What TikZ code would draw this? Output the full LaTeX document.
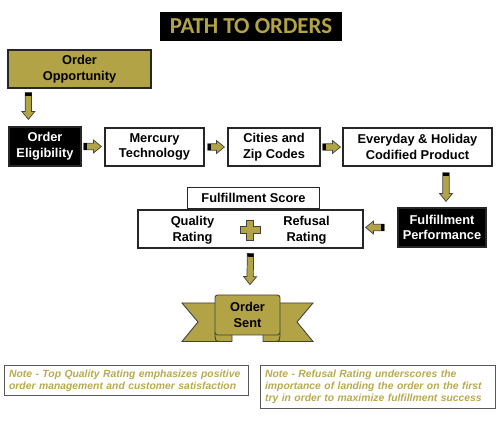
\documentclass[tikz,border=0pt]{standalone}
\usepackage{fontspec}
\setmainfont{Liberation Sans}
\newfontfamily\titlefont{Carlito}
\usetikzlibrary{calc}

\definecolor{gold}{RGB}{178,164,70}
\definecolor{notegold}{RGB}{184,170,78}

\tikzset{
  box/.style={draw=black!85, line width=0.7pt, fill=white, align=center, inner sep=0pt,
    minimum height=7.6mm, font=\bfseries\fontsize{7.3}{9}\selectfont},
  darkbox/.style={box, fill=black, text=white},
  lbl/.style={align=center, inner sep=0pt, font=\bfseries\fontsize{7.3}{9}\selectfont},
  banner/.style={fill=gold, draw=black!75, line width=0.5pt},
  note/.style={draw=black!65, line width=0.6pt, anchor=north west, align=left,
    inner xsep=2.6pt, inner ysep=0pt, text=notegold,
    font=\bfseries\itshape\fontsize{5.9}{6.9}\selectfont},
  fat/.style={fill=gold, draw=black!75, line width=0.4pt, to path={
    let \p1=(\tikztostart), \p2=(\tikztotarget), \n1={atan2(\y2-\y1,\x2-\x1)} in
    ($(\p2)!4.5pt!(\p1)$) coordinate (fathead)
    ($(\p1)!1.8pt!90:(\p2)$) -- ($(fathead)!1.8pt!90:(\p2)$) -- ($(fathead)!3.7pt!90:(\p2)$)
    -- (\p2) -- ($(fathead)!3.7pt!-90:(\p2)$) -- ($(fathead)!1.8pt!-90:(\p2)$)
    -- ($(\p1)!1.8pt!-90:(\p2)$) -- cycle
    ($(\p1)!0.9pt!(\p2)$) node[fill=black, draw=none, inner sep=0pt,
      minimum width=1.8pt, minimum height=3.6pt, rotate=\n1] {}
  }},
}

\begin{document}
\begin{tikzpicture}[x=0.2mm, y=-0.2mm]
  \useasboundingbox (0,0) rectangle (500,421);

  % Title
  \node[fill=black, minimum width=36.4mm, minimum height=5.8mm, inner sep=0pt, text=gold,
    font=\titlefont\bfseries\fontsize{13}{15}\selectfont] (title) at (251,26.5) {PATH TO ORDERS};

  % Top row
  \node[box, fill=gold, minimum width=28.6mm] (opp) at (79.5,69) {Order\\Opportunity};
  \node[darkbox, minimum width=14.4mm, minimum height=7.8mm] (elig) at (45,146.5) {Order\\Eligibility};
  \node[box, minimum width=19.8mm] (merc) at (154.5,147) {Mercury\\Technology};
  \node[box, minimum width=18.4mm] (city) at (274,147) {Cities and\\Zip Codes};
  \node[box, minimum width=29.8mm] (prod) at (417.5,147) {Everyday \& Holiday\\Codified Product};

  % Fulfillment
  \node[darkbox, minimum width=17.6mm, minimum height=7.8mm] (perf) at (442,227.5) {Fulfillment\\Performance};
  \node[box, minimum width=26.4mm, minimum height=4.2mm] (score) at (253.5,198) {Fulfillment Score};
  \node[box, minimum width=45mm] (rating) at (250.5,229) {};
  \node[lbl] (qual) at (192.5,230) {Quality\\Rating};
  \node[lbl] (refu) at (306.5,230) {Refusal\\Rating};
  \filldraw[banner] (246.5,220) -- (253.5,220) -- (253.5,226.5) -- (260,226.5) -- (260,233.5)
    -- (253.5,233.5) -- (253.5,240) -- (246.5,240) -- (246.5,233.5) -- (240,233.5)
    -- (240,226.5) -- (246.5,226.5) -- cycle;

  % Banner
  \foreach \s in {1,-1} {
    \begin{scope}[shift={(247.5,0)}, xscale=\s]
      \filldraw[banner] (-65.5,303) -- (-23.5,303) -- (-23.5,341.5) -- (-65.5,341.5) -- (-49.5,322) -- cycle;
      \filldraw[banner] (-32.5,333) -- (-15.5,333) -- (-15.5,341.5) -- (-28.5,341.5)
        .. controls (-32,341.5) and (-32.5,339) .. (-32.5,336) -- cycle;
    \end{scope}
  }
  \node[box, fill=gold, draw=black!75, line width=0.5pt, rounded corners=1.5pt,
    minimum width=13mm, minimum height=8mm] (sent) at (247.5,315) {Order\\Sent};

  % Arrows
  \draw[fat] ($(opp.south west)+(21,4)$) to ($(elig.north west)+(20,-7)$);
  \draw[fat] ($(elig.east)+(2,0)$) to ($(elig.east -| merc.west)+(-3,0)$);
  \draw[fat] ($(merc.east)+(3,0)$) to ($(merc.east -| city.west)+(-3,0)$);
  \draw[fat] ($(city.east)+(2,0)$) to ($(city.east -| prod.west)+(-2,0)$);
  \draw[fat] ($(prod.south)+(28.5,6)$) to ($(perf.north)+(4,-6)$);
  \draw[fat] ($(perf.west)+(-13,0)$) to ($(perf.west -| rating.east)+(2,0)$);
  \draw[fat] ($(rating.south)+(0,5)$) to ($(sent.north)+(2.5,-10)$);

  % Notes
  \node[note, text width=46.97mm, minimum height=6mm] (note1) at (4,365)
    {Note - Top Quality Rating emphasizes positive\\order management and customer satisfaction};
  \node[note, text width=45.17mm, minimum height=8.6mm] (note2) at (260,365)
    {Note - Refusal Rating underscores the\\importance of landing the order on the first\\try in order to maximize fulfillment success};
\end{tikzpicture}
\end{document}
